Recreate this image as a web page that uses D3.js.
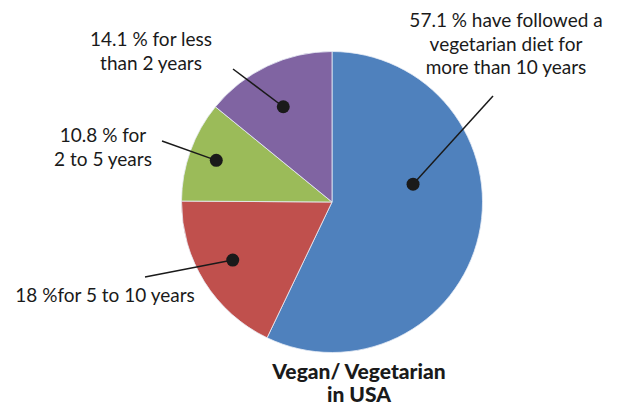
<!DOCTYPE html>
<html>
<head>
<meta charset="utf-8">
<script src="https://cdn.jsdelivr.net/npm/d3@7"></script>
<style>
  html, body { margin: 0; padding: 0; background: #fff; }
  svg text { font-family: Lato, "DejaVu Sans", sans-serif; fill: #1a1a1a; }
</style>
</head>
<body>
<div id="chart"></div>
<script>
// Data
const categories = ['more than 10 years', '5 to 10 years', '2 to 5 years', 'less than 2 years'];
const shares = [57.1, 18, 10.8, 14.1];
const labelLines = [
    ['57.1 % have followed a', 'vegetarian diet for', 'more than 10 years'],
    ['18 %for 5 to 10 years'],
    ['10.8 % for', '2 to 5 years'],
    ['14.1 % for less', 'than 2 years']
];
const titleLines = ['Vegan/ Vegetarian', 'in USA'];

const colors = ['#4f81bd', '#c0504d', '#9bbb59', '#8064a2'];

const width = 619;
const height = 406;
const cx = 332, cy = 202, radius = 150.5;

// label placement (relative to pie centre): dot distance, angle nudge, line end, text anchor
const labelLayout = [
    { dotR: 83, nudge: -0.44, end: [161, -106], text: [174, -175] },
    { dotR: 115, nudge: 0.03, end: [-187, 75], text: [-227, 100] },
    { dotR: 123, nudge: 0, end: [-170, -61], text: [-229, -60] },
    { dotR: 107, nudge: -0.03, end: [-99, -133], text: [-181, -156] }
];

const svg = d3.select('#chart')
    .append('svg')
    .attr('width', width)
    .attr('height', height);

const g = svg.append('g')
    .attr('transform', `translate(${cx},${cy})`);

const pie = d3.pie().sort(null).value(d => d);
const arcs = pie(shares);

const arc = d3.arc().innerRadius(0).outerRadius(radius);

g.selectAll('path')
    .data(arcs)
    .enter().append('path')
    .attr('d', arc)
    .attr('fill', (d, i) => colors[i])
    .attr('stroke', '#e8eef6')
    .attr('stroke-width', 0.8);

// leader lines and dots
arcs.forEach((d, i) => {
    const L = labelLayout[i];
    const a = (d.startAngle + d.endAngle) / 2 + L.nudge;
    const x = Math.sin(a) * L.dotR;
    const y = -Math.cos(a) * L.dotR;
    g.append('line')
        .attr('x1', x).attr('y1', y)
        .attr('x2', L.end[0]).attr('y2', L.end[1])
        .attr('stroke', '#1a1a1a')
        .attr('stroke-width', 1.5);
    g.append('circle')
        .attr('cx', x).attr('cy', y)
        .attr('r', 6.5)
        .attr('fill', '#1a1a1a');

    const t = g.append('text')
        .attr('text-anchor', 'middle')
        .attr('font-size', 19);
    labelLines[i].forEach((s, j) => {
        t.append('tspan')
            .attr('x', L.text[0])
            .attr('y', L.text[1] + j * 23.5)
            .text(s);
    });
});

// title
const title = svg.append('text')
    .attr('text-anchor', 'middle')
    .attr('font-size', 21)
    .attr('font-weight', 900);
titleLines.forEach((s, j) => {
    title.append('tspan')
        .attr('x', 359)
        .attr('y', 379 + j * 23)
        .text(s);
});
</script>
</body>
</html>
